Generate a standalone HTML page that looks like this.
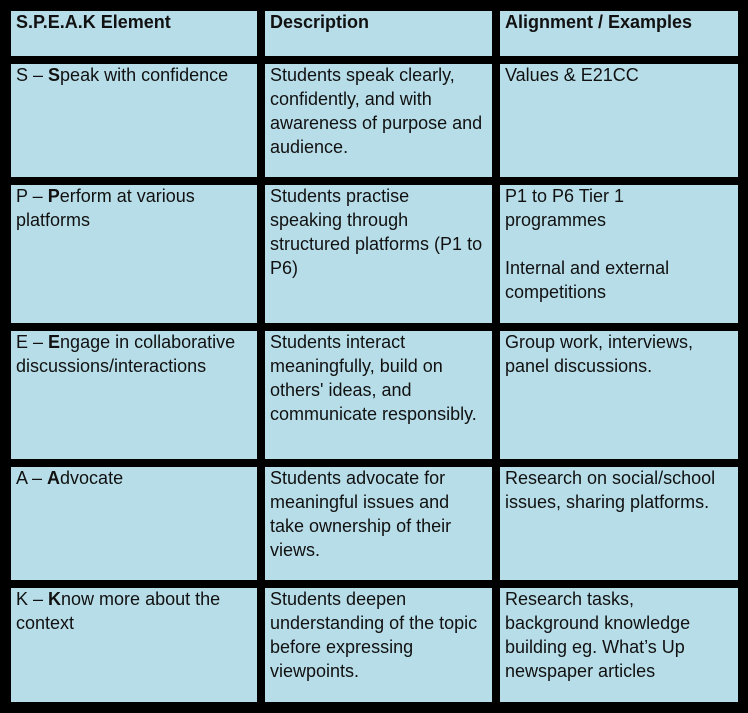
<!DOCTYPE html>
<html><head><meta charset="utf-8"><style>
html,body{margin:0;padding:0;background:#000;}
body{width:748px;height:713px;position:relative;overflow:hidden;font-family:"Liberation Sans",Arial,sans-serif;font-size:18px;line-height:24px;color:#111;}
.c{position:absolute;background:#b7dde8;box-sizing:border-box;padding:0 5px;white-space:nowrap;}
.c span.t{position:relative;top:-1px;display:block;}
b{font-weight:bold;}
</style></head><body>
<div class="c" style="left:11px;top:11px;width:246px;height:45px"><span class="t"><b>S.P.E.A.K Element</b></span></div>
<div class="c" style="left:265px;top:11px;width:227px;height:45px"><span class="t"><b>Description</b></span></div>
<div class="c" style="left:500px;top:11px;width:238px;height:45px"><span class="t"><b>Alignment / Examples</b></span></div>

<div class="c" style="left:11px;top:64px;width:246px;height:113px"><span class="t">S – <b>S</b>peak with confidence</span></div>
<div class="c" style="left:265px;top:64px;width:227px;height:113px"><span class="t">Students speak clearly,<br>confidently, and with<br>awareness of purpose and<br>audience.</span></div>
<div class="c" style="left:500px;top:64px;width:238px;height:113px"><span class="t">Values &amp; E21CC</span></div>

<div class="c" style="left:11px;top:185px;width:246px;height:138px"><span class="t">P – <b>P</b>erform at various<br>platforms</span></div>
<div class="c" style="left:265px;top:185px;width:227px;height:138px"><span class="t">Students practise<br>speaking through<br>structured platforms (P1 to<br>P6)</span></div>
<div class="c" style="left:500px;top:185px;width:238px;height:138px"><span class="t">P1 to P6 Tier 1<br>programmes<br><br>Internal and external<br>competitions</span></div>

<div class="c" style="left:11px;top:331px;width:246px;height:128px"><span class="t">E – <b>E</b>ngage in collaborative<br>discussions/interactions</span></div>
<div class="c" style="left:265px;top:331px;width:227px;height:128px"><span class="t">Students interact<br>meaningfully, build on<br>others' ideas, and<br>communicate responsibly.</span></div>
<div class="c" style="left:500px;top:331px;width:238px;height:128px"><span class="t">Group work, interviews,<br>panel discussions.</span></div>

<div class="c" style="left:11px;top:467px;width:246px;height:113px"><span class="t">A – <b>A</b>dvocate</span></div>
<div class="c" style="left:265px;top:467px;width:227px;height:113px"><span class="t">Students advocate for<br>meaningful issues and<br>take ownership of their<br>views.</span></div>
<div class="c" style="left:500px;top:467px;width:238px;height:113px"><span class="t">Research on social/school<br>issues, sharing platforms.</span></div>

<div class="c" style="left:11px;top:588px;width:246px;height:114px"><span class="t">K – <b>K</b>now more about the<br>context</span></div>
<div class="c" style="left:265px;top:588px;width:227px;height:114px"><span class="t">Students deepen<br>understanding of the topic<br>before expressing<br>viewpoints.</span></div>
<div class="c" style="left:500px;top:588px;width:238px;height:114px"><span class="t">Research tasks,<br>background knowledge<br>building eg. What’s Up<br>newspaper articles</span></div>
</body></html>
